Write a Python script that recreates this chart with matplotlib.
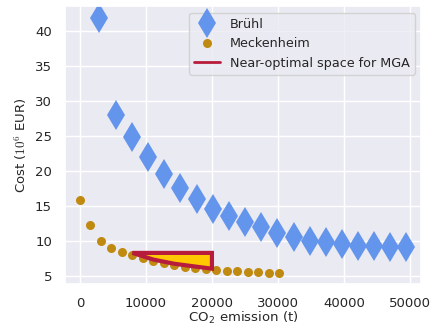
import matplotlib
matplotlib.use('Agg')
import matplotlib.pyplot as plt
import seaborn as sns

# Bruehl: emission (t) vs cost (1e6 EUR)
bruehl_x = [2900, 5400, 7900, 10300, 12700, 15200, 17700, 20100, 22600, 25000,
            27400, 29900, 32400, 34800, 37300, 39700, 42100, 44600, 47000, 49400]
bruehl_y = [41.9, 28.1, 24.9, 22.0, 19.6, 17.6, 16.0, 14.6, 13.6, 12.7,
            12.0, 11.2, 10.6, 10.1, 9.9, 9.6, 9.4, 9.3, 9.2, 9.2]

# Meckenheim
meck_x = [0, 1590, 3180, 4770, 6360, 7950, 9540, 11130, 12720, 14310,
          15900, 17490, 19080, 20670, 22260, 23850, 25440, 27030, 28620, 30210]
meck_y = [15.9, 12.3, 10.1, 9.1, 8.5, 8.1, 7.6, 7.2, 6.9, 6.6,
          6.35, 6.15, 6.0, 5.9, 5.8, 5.7, 5.65, 5.6, 5.55, 5.55]

# near-optimal region outline
mga_x = [7950, 20000, 20000, 17500, 14300, 11100, 7950]
mga_y = [8.35, 8.35, 6.1, 6.4, 6.8, 7.4, 8.35]

sns.set_theme(style='darkgrid')
plt.rcParams['mathtext.fontset'] = 'cm'

fig = plt.figure(figsize=(4.3, 3.28), dpi=100)
ax = fig.add_axes([0.150, 0.134, 0.830, 0.847])

ax.plot(bruehl_x, bruehl_y, 'd', color='cornflowerblue', ms=15, mew=0,
        label='Brühl', zorder=2)
ax.plot(meck_x, meck_y, 'o', color='#c08a10', ms=6.5, mew=0,
        label='Meckenheim', zorder=2)
ax.fill(mga_x, mga_y, facecolor='#ffc800', edgecolor='#b71c3c', lw=3,
        zorder=3)
ax.plot([], [], color='#b71c3c', lw=2, label='Near-optimal space for MGA')

ax.set_xlim(-2350, 51750)
ax.set_ylim(3.9, 43.6)
ax.set_xticks([0, 10000, 20000, 30000, 40000, 50000])
ax.set_yticks([5, 10, 15, 20, 25, 30, 35, 40])
ax.tick_params(labelsize=9.5, pad=3)
ax.set_xlabel(r'CO$_\mathregular{2}$ emission (t)', fontsize=9.5, labelpad=0)
ax.set_ylabel(r'Cost ($10^6$ EUR)', fontsize=9.5, labelpad=4)
ax.legend(loc='upper right', fontsize=9.2, borderaxespad=0.5)

fig.savefig('out.png', dpi=100)
